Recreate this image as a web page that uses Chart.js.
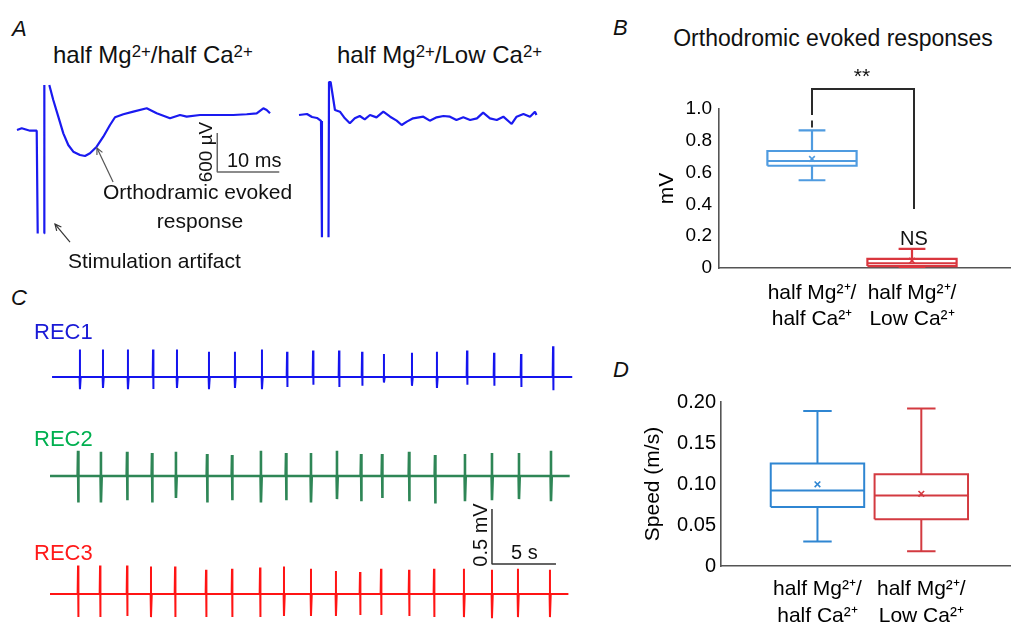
<!DOCTYPE html>
<html>
<head>
<meta charset="utf-8">
<script src="https://cdn.jsdelivr.net/npm/chart.js@4/dist/chart.umd.min.js"></script>
<style>
body { margin: 0; background: #fff; }
#fig { position: relative; width: 1016px; height: 627px; overflow: hidden; background: #fff;
       font-family: "Liberation Sans", Arial, sans-serif; color: #111; }
#fig canvas { position: absolute; }
.t { position: absolute; white-space: nowrap; line-height: 1; }
.t sup { font-size: 0.7em; vertical-align: 0.36em; line-height: 0; }
</style>
</head>
<body>
<div id="fig"></div>
<script>
// ---- panel A: single evoked traces (time in ms, voltage in µV)
const evokedHalfCaT = [0, 0.76, 2.1, 3.18, 3.34, 3.9, 4.4, 4.41, 4.8, 5.21, 5.85, 6.66, 7.47, 8.27, 9.08, 10.16, 10.97, 11.77, 12.85,
    13.92, 15.0, 15.81, 17.15, 18.76, 20.92, 22.53, 24.68, 26.29, 27.37, 29.52, 31.66, 34.89, 37.05, 38.66, 39.73, 40.27, 40.81];
const evokedHalfCaV = [0, 26, -11, -11, -1591, null, -1591, 693, null, 693, 462, 205, -51, -231, -334, -385, -400, -359, -257,
    -103, 77, 196, 242, 282, 334, 257, 180, 231, 205, 231, 231, 231, 242, 257, 334, 308, 257];
const evokedLowCaT = [0, 1.29, 2.1, 2.9, 3.55, 3.7, 3.9, 4.76, 4.84, 5.1, 5.8, 6.6, 7.4, 8.2, 9.0, 9.8, 10.6, 11.45, 12.5, 13.6,
    14.7, 15.75, 16.56, 17.4, 18.4, 20.05, 21.1, 22.2, 23.3, 24.35, 25.4, 26.5, 27.6, 28.7, 29.7, 30.8, 31.9, 32.96, 34.3, 35.1,
    36.2, 37.26, 38.06, 38.3];
const evokedLowCaV = [0, 15, -31, -46, -92, -1879, null, -1879, 508, 508, 77, 51, -51, -128, -51, -15, -66, 0, -36, 51,
    -26, -87, -154, -102, -51, -26, -87, -36, -15, -26, -77, -36, -77, -51, 36, -51, -77, -26, -138, -26,
    15, -26, 51, 0];
const scaleBarA = { t: 32.3, v: -46, dt: 10, dv: 600 };
const arrowResponse = { x: [15.5, 12.9], y: [-800, -277] };
const arrowArtifact = { x: [8.55, 6.13], y: [-1725, -1448] };

// ---- panel B: orthodromic evoked response amplitude (mV)
const ampLow = [0.552, 0.003];
const ampQ1 = [0.643, 0.012];
const ampMedian = [0.673, 0.03];
const ampQ3 = [0.736, 0.058];
const ampHigh = [0.866, 0.12];
const ampMean = [0.686, 0.046];
const ampOutlier = [0.905];
const ampTicks = [0, 0.2, 0.4, 0.6, 0.8, 1.0];

// ---- panel C: spike trains (time in s, amplitude in mV)
const rec1SpikeT = [2.34, 4.14, 6.09, 8.05, 9.92, 12.42, 14.45, 16.56, 18.52, 20.55, 22.58, 24.38, 26.09, 28.28, 30.23, 32.58, 34.69, 36.80, 39.30];
const rec1Up = [0.25, 0.25, 0.25, 0.25, 0.25, 0.23, 0.23, 0.25, 0.23, 0.24, 0.24, 0.23, 0.21, 0.22, 0.23, 0.24, 0.22, 0.21, 0.28];
const rec1Down = [0.11, 0.10, 0.11, 0.11, 0.10, 0.11, 0.10, 0.11, 0.09, 0.07, 0.09, 0.08, 0.05, 0.08, 0.10, 0.07, 0.08, 0.09, 0.12];
const rec2SpikeT = [2.19, 3.98, 6.02, 7.97, 9.84, 12.27, 14.22, 16.48, 18.44, 20.39, 22.42, 24.30, 25.94, 28.05, 30.08, 32.42, 34.53, 36.64, 39.14];
const rec2Up = [0.23, 0.22, 0.22, 0.21, 0.22, 0.20, 0.19, 0.23, 0.21, 0.21, 0.23, 0.20, 0.20, 0.22, 0.19, 0.20, 0.21, 0.21, 0.23];
const rec2Down = [0.24, 0.24, 0.22, 0.24, 0.20, 0.24, 0.22, 0.24, 0.22, 0.24, 0.21, 0.23, 0.20, 0.23, 0.25, 0.23, 0.22, 0.21, 0.23];
const rec3SpikeT = [2.19, 3.91, 6.02, 7.89, 9.77, 12.19, 14.22, 16.41, 18.28, 20.39, 22.34, 24.22, 25.86, 28.05, 30.0, 32.34, 34.53, 36.56, 39.06];
const rec3Up = [0.26, 0.26, 0.26, 0.25, 0.25, 0.22, 0.23, 0.24, 0.25, 0.23, 0.21, 0.20, 0.23, 0.22, 0.23, 0.23, 0.22, 0.23, 0.22];
const rec3Down = [0.21, 0.21, 0.20, 0.21, 0.21, 0.21, 0.21, 0.21, 0.20, 0.20, 0.20, 0.19, 0.19, 0.20, 0.21, 0.21, 0.22, 0.21, 0.21];
const rec1Span = [0.16, 40.8];
const rec2Span = [0, 40.6];
const rec3Span = [0, 40.5];
const scaleBarC = { t: 34.53, v: 0.273, dt: 5, dv: 0.5 };

// ---- panel D: conduction speed (m/s)
const speedLow = [0.030, 0.018];
const speedQ1 = [0.072, 0.057];
const speedMedian = [0.092, 0.086];
const speedQ3 = [0.125, 0.112];
const speedHigh = [0.189, 0.192];
const speedMean = [0.0996, 0.088];

const groupLabels = [['half Mg²⁺/', 'half Ca²⁺'], ['half Mg²⁺/', 'Low Ca²⁺']];

Chart.defaults.font.family = '"Liberation Sans", Arial, sans-serif';
Chart.defaults.color = '#000';

const fig = document.getElementById('fig');

function addText(html, x, base, size, opts = {}) {
    const d = document.createElement('div');
    d.className = 't';
    d.innerHTML = html;
    d.style.fontSize = size + 'px';
    d.style.left = x + 'px';
    d.style.top = (base - 0.8465 * size) + 'px';
    if (opts.center) d.style.transform = 'translateX(-50%)';
    if (opts.italic) d.style.fontStyle = 'italic';
    if (opts.color) d.style.color = opts.color;
    fig.appendChild(d);
}

function addRotated(html, cx, cy, size) {
    const d = document.createElement('div');
    d.className = 't';
    d.innerHTML = html;
    d.style.fontSize = size + 'px';
    d.style.left = cx + 'px';
    d.style.top = cy + 'px';
    d.style.transform = 'translate(-50%,-50%) rotate(-90deg)';
    fig.appendChild(d);
}

function makeCanvas(box) {
    const c = document.createElement('canvas');
    c.width = box.width;
    c.height = box.height;
    c.style.left = box.left + 'px';
    c.style.top = box.top + 'px';
    fig.appendChild(c);
    return c;
}

function xy(xs, ys) {
    return xs.map((x, i) => ({ x: x, y: ys[i] }));
}

// each spike: sharp upstroke, vertical fall to the trough, quick return to baseline
function spikeTrace(times, ups, downs, span) {
    const pts = [{ x: span[0], y: 0 }];
    times.forEach((t, i) => {
        pts.push({ x: t - 0.03, y: 0 }, { x: t, y: ups[i] }, { x: t, y: -downs[i] }, { x: t + 0.06, y: 0 });
    });
    pts.push({ x: span[1], y: 0 });
    return pts;
}

function scaleBar(b, up) {
    // vertical leg then horizontal leg, in data units
    if (up) return [{ x: b.t, y: b.v + b.dv }, { x: b.t, y: b.v }, { x: b.t + b.dt, y: b.v }];
    return [{ x: b.t, y: b.v }, { x: b.t, y: b.v - b.dv }, { x: b.t + b.dt, y: b.v - b.dv }];
}

const arrowHeads = {
    id: 'arrowHeads',
    afterDatasetsDraw(chart) {
        const ctx = chart.ctx;
        chart.data.datasets.forEach((ds, i) => {
            if (!ds.arrow) return;
            const pts = chart.getDatasetMeta(i).data;
            const a = pts[pts.length - 2], b = pts[pts.length - 1];
            const ang = Math.atan2(b.y - a.y, b.x - a.x);
            ctx.save();
            ctx.strokeStyle = ds.borderColor;
            ctx.lineWidth = ds.borderWidth;
            ctx.beginPath();
            ctx.moveTo(b.x - 7 * Math.cos(ang - 0.45), b.y - 7 * Math.sin(ang - 0.45));
            ctx.lineTo(b.x, b.y);
            ctx.lineTo(b.x - 7 * Math.cos(ang + 0.45), b.y - 7 * Math.sin(ang + 0.45));
            ctx.stroke();
            ctx.restore();
        });
    }
};

// trace panels: chart area fills the canvas; origin = page pixel of (0,0), px per unit
function traceChart(box, origin, pxX, pxY, datasets) {
    return new Chart(makeCanvas(box), {
        type: 'line',
        data: { datasets: datasets },
        options: {
            responsive: false,
            animation: false,
            layout: { padding: 0 },
            plugins: { legend: { display: false }, tooltip: { enabled: false } },
            elements: { point: { radius: 0 }, line: { tension: 0, borderCapStyle: 'butt', borderJoinStyle: 'bevel' } },
            scales: {
                x: { type: 'linear', display: false,
                     min: (box.left - origin[0]) / pxX, max: (box.left + box.width - origin[0]) / pxX },
                y: { type: 'linear', display: false,
                     min: (origin[1] - box.top - box.height) / pxY, max: (origin[1] - box.top) / pxY }
            }
        },
        plugins: [arrowHeads]
    });
}

const traceBlue = '#1a1af0';
traceChart({ left: 0, top: 72, width: 300, height: 192 }, [17, 130], 6.2, 0.065, [
    { data: xy(evokedHalfCaT, evokedHalfCaV), borderColor: traceBlue, borderWidth: 2.2 },
    { data: scaleBar(scaleBarA, false), borderColor: '#666', borderWidth: 1.5 },
    { data: xy(arrowResponse.x, arrowResponse.y), borderColor: '#555', borderWidth: 1.2, arrow: true },
    { data: xy(arrowArtifact.x, arrowArtifact.y), borderColor: '#333', borderWidth: 1.2, arrow: true }
]);
traceChart({ left: 288, top: 72, width: 262, height: 180 }, [299, 115], 6.2, 0.065, [
    { data: xy(evokedLowCaT, evokedLowCaV), borderColor: traceBlue, borderWidth: 2.2 }
]);

traceChart({ left: 40, top: 335, width: 545, height: 65 }, [50, 377], 12.8, 110, [
    { data: spikeTrace(rec1SpikeT, rec1Up, rec1Down, rec1Span), borderColor: '#1414ee', borderWidth: 2 }
]);
traceChart({ left: 40, top: 440, width: 545, height: 70 }, [50, 476], 12.8, 110, [
    { data: spikeTrace(rec2SpikeT, rec2Up, rec2Down, rec2Span), borderColor: '#2e8656', borderWidth: 2.6 }
]);
traceChart({ left: 40, top: 495, width: 545, height: 132 }, [50, 594], 12.8, 110, [
    { data: spikeTrace(rec3SpikeT, rec3Up, rec3Down, rec3Span), borderColor: '#ff1414', borderWidth: 2 },
    { data: scaleBar(scaleBarC, true), borderColor: '#333', borderWidth: 1.5 }
]);

// box plots
function boxSets(low, q1, med, q3, high, mean, colors, halfW, capW, lw) {
    const sets = [];
    low.forEach((_, i) => {
        const c = i + 1;
        const pts = [
            { x: c - halfW, y: q1[i] }, { x: c + halfW, y: q1[i] }, { x: c + halfW, y: q3[i] }, { x: c - halfW, y: q3[i] },
            { x: c - halfW, y: q1[i] }, { x: c, y: null },
            { x: c - halfW, y: med[i] }, { x: c + halfW, y: med[i] }, { x: c, y: null },
            { x: c, y: q3[i] }, { x: c, y: high[i] }, { x: c, y: null },
            { x: c - capW, y: high[i] }, { x: c + capW, y: high[i] }, { x: c, y: null },
            { x: c, y: q1[i] }, { x: c, y: low[i] }, { x: c, y: null },
            { x: c - capW, y: low[i] }, { x: c + capW, y: low[i] }
        ];
        sets.push({ data: pts, borderColor: colors[i], borderWidth: lw, pointRadius: 0 });
        sets.push({ data: [{ x: c, y: mean[i] }], showLine: false, pointStyle: 'crossRot', pointRadius: 4,
                    pointBorderColor: colors[i], pointBorderWidth: 1.6 });
    });
    return sets;
}

function boxChart(box, opt) {
    return new Chart(makeCanvas(box), {
        type: 'line',
        data: { datasets: opt.datasets },
        options: {
            responsive: false,
            animation: false,
            layout: { padding: opt.padding },
            plugins: { legend: { display: false }, tooltip: { enabled: false } },
            elements: { line: { tension: 0, borderCapStyle: 'butt', borderJoinStyle: 'miter' } },
            scales: {
                x: {
                    type: 'linear', min: opt.xMin, max: opt.xMax,
                    grid: { display: false, drawTicks: false },
                    border: { color: '#555', width: 1.6 },
                    afterBuildTicks: (s) => { s.ticks = [{ value: 1 }, { value: 2 }]; },
                    afterFit: (s) => { s.height = opt.xHeight; },
                    ticks: { callback: (v) => groupLabels[v - 1], padding: opt.xPad, maxRotation: 0,
                             font: { size: 21, lineHeight: opt.xLine }, color: '#000' }
                },
                y: {
                    type: 'linear', min: opt.yMin, max: opt.yMax,
                    grid: { display: false, drawTicks: false },
                    border: { color: '#555', width: 1.6 },
                    afterBuildTicks: (s) => { s.ticks = opt.yTicks.map(v => ({ value: v })); },
                    afterFit: (s) => { s.width = opt.yWidth; },
                    ticks: { callback: (v) => v === 0 ? '0' : v.toFixed(opt.dec), padding: opt.yPad,
                             font: { size: opt.yFont }, color: '#000' },
                    title: { display: true, text: opt.yTitle, font: { size: 21 }, color: '#000',
                             padding: { top: opt.titlePad, bottom: 0 } }
                }
            }
        },
        plugins: [arrowHeads]
    });
}

const ampSets = boxSets(ampLow, ampQ1, ampMedian, ampQ3, ampHigh, ampMean, ['#4f9be0', '#d9363e'], 0.446, 0.134, 2.2);
ampSets.push({ data: [{ x: 1, y: ampOutlier[0] }], showLine: false, pointStyle: 'line', pointRotation: 90,
               pointRadius: 3.5, pointBorderColor: '#333', pointBorderWidth: 2 });
ampSets.push({ data: [{ x: 1, y: 0.962 }, { x: 1, y: 1.126 }, { x: 2.02, y: 1.126 }, { x: 2.02, y: 0.371 }],
               borderColor: '#2a2a2a', borderWidth: 2, pointRadius: 0, clip: false });

boxChart({ left: 640, top: 60, width: 376, height: 279 }, {
    datasets: ampSets, padding: { top: 49, right: 3, left: 0, bottom: 0 },
    xMin: 0.07, xMax: 2.98, xHeight: 71, xPad: 12, xLine: 1.25,
    yMin: 0, yMax: 1.0, yTicks: ampTicks, dec: 1, yWidth: 79, yPad: 7, yFont: 19,
    yTitle: 'mV', titlePad: 15
});

const speedSets = boxSets(speedLow, speedQ1, speedMedian, speedQ3, speedHigh, speedMean, ['#2f86d2', '#d33a40'], 0.45, 0.137, 2);
boxChart({ left: 640, top: 380, width: 376, height: 247 }, {
    datasets: speedSets, padding: { top: 22, right: 1, left: 0, bottom: 0 },
    xMin: 0.071, xMax: 2.858, xHeight: 61, xPad: 10, xLine: 1.29,
    yMin: 0, yMax: 0.2, yTicks: [0, 0.05, 0.1, 0.15, 0.2], dec: 2, yWidth: 81, yPad: 5, yFont: 20,
    yTitle: 'Speed (m/s)', titlePad: 1
});

// texts
addText('A', 12, 37, 22, { italic: true });
addText('half Mg<sup>2+</sup>/half Ca<sup>2+</sup>', 53, 63, 24);
addText('half Mg<sup>2+</sup>/Low Ca<sup>2+</sup>', 337, 63, 24);
addText('10 ms', 227, 167, 20);
addRotated('600 µV', 205, 152, 19);
addText('Orthodramic evoked', 103, 199, 21);
addText('response', 200, 228, 21, { center: true });
addText('Stimulation artifact', 68, 268, 21);

addText('B', 613, 36, 22, { italic: true });
addText('Orthodromic evoked responses', 833, 46, 23, { center: true });
addText('**', 862, 83, 21, { center: true });
addText('NS', 900, 245, 20);

addText('C', 11, 306, 22, { italic: true });
addText('REC1', 34, 340, 22, { color: '#1a1ad6' });
addText('REC2', 34, 447, 22, { color: '#00b050' });
addText('REC3', 34, 561, 22, { color: '#ff1a1a' });
addRotated('0.5 mV', 480, 535, 20);
addText('5 s', 511, 559, 20);

addText('D', 613, 378, 22, { italic: true });
</script>
</body>
</html>
